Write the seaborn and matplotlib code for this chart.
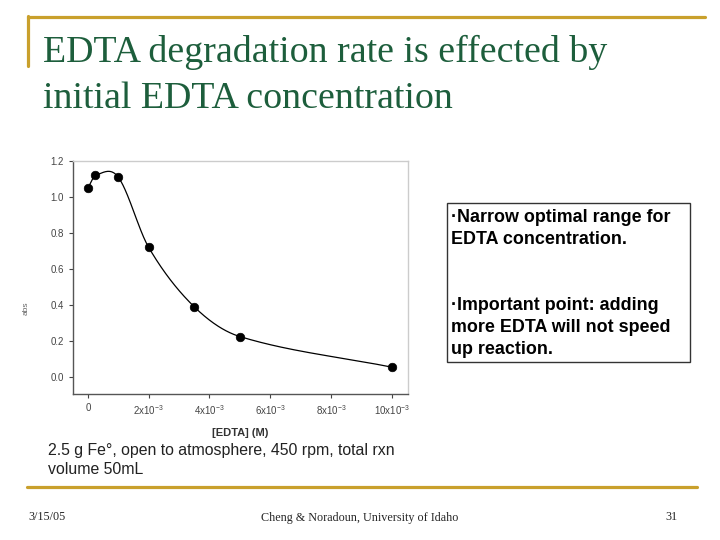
import numpy as np
import pandas as pd
import matplotlib
matplotlib.use("Agg")
from matplotlib import pyplot as plt
from matplotlib.lines import Line2D
from matplotlib.patches import Rectangle
import seaborn as sns

# data
edta_conc = [0.0, 0.25e-3, 1.0e-3, 2.0e-3, 3.5e-3, 5.0e-3, 10.0e-3]
k_abs = [1.05, 1.12, 1.11, 0.72, 0.39, 0.225, 0.055]
x_ticks = [0, 2e-3, 4e-3, 6e-3, 8e-3, 10e-3]
x_ticklabels = ["0", r"2x10$^{-3}$", r"4x10$^{-3}$", r"6x10$^{-3}$", r"8x10$^{-3}$", r"10x10$^{-3}$"]
y_ticks = [0.0, 0.2, 0.4, 0.6, 0.8, 1.0, 1.2]

GOLD = "#C9A02C"
GREEN = "#1D5E3C"


def smooth_curve(x, y, n=60):
    # cardinal (catmull-rom) spline through the points, like the original software
    x = np.asarray(x, float)
    y = np.asarray(y, float)
    m = len(x)
    d = np.empty(m)
    d[0] = (y[1] - y[0]) / (x[1] - x[0])
    d[-1] = (y[-1] - y[-2]) / (x[-1] - x[-2])
    d[1:-1] = (y[2:] - y[:-2]) / (x[2:] - x[:-2])
    xs_all, ys_all = [], []
    for i in range(m - 1):
        h = x[i + 1] - x[i]
        t = np.linspace(0, 1, n)
        h00 = 2 * t**3 - 3 * t**2 + 1
        h10 = t**3 - 2 * t**2 + t
        h01 = -2 * t**3 + 3 * t**2
        h11 = t**3 - t**2
        xs_all.append(x[i] + t * h)
        ys_all.append(h00 * y[i] + h10 * h * d[i] + h01 * y[i + 1] + h11 * h * d[i + 1])
    return np.concatenate(xs_all), np.concatenate(ys_all)


sns.set_style("white")
plt.rcParams["font.family"] = ["Liberation Sans", "DejaVu Sans"]
plt.rcParams["mathtext.fontset"] = "custom"
plt.rcParams["mathtext.rm"] = "Liberation Sans"
plt.rcParams["mathtext.it"] = "Liberation Sans:italic"

fig = plt.figure(figsize=(7.2, 5.4), dpi=100)

W, H = 720.0, 540.0
ax = fig.add_axes([73 / W, 1 - 394 / H, (408 - 73) / W, (394 - 161) / H])

df = pd.DataFrame({"edta": edta_conc, "k": k_abs})
xs, ys = smooth_curve(edta_conc, k_abs)
sns.lineplot(x=xs, y=ys, ax=ax, color="black", linewidth=0.9, sort=False)
sns.scatterplot(data=df, x="edta", y="k", ax=ax, color="black", s=38, edgecolor="black", zorder=3)

ax.set_xlim(-0.49e-3, 10.53e-3)
ax.set_ylim(-0.094, 1.2)
ax.set_xticks(x_ticks)
ax.set_xticklabels(x_ticklabels)
ax.set_yticks(y_ticks)
ax.set_yticklabels([f"{v:.1f}" for v in y_ticks])
ax.tick_params(axis="both", labelsize=7, colors="#444444", length=3, width=0.8,
               direction="out", bottom=True, left=True)
ax.set_xlabel("[EDTA] (M)", fontsize=8, fontweight="bold", color="#333333", labelpad=8)
ax.set_ylabel("abs", fontsize=6, color="#666666")
ax.yaxis.set_label_coords(-0.13, 0.37)
for side in ["left", "bottom"]:
    ax.spines[side].set_color("#555555")
    ax.spines[side].set_linewidth(1.0)
for side in ["top", "right"]:
    ax.spines[side].set_color("#cccccc")
    ax.spines[side].set_linewidth(1.0)

# slide decoration
fig.add_artist(Line2D([28 / W, 705 / W], [1 - 17 / H, 1 - 17 / H], color=GOLD, lw=2.3))
fig.add_artist(Line2D([28 / W, 28 / W], [1 - 16 / H, 1 - 66 / H], color=GOLD, lw=2.3))
fig.add_artist(Line2D([27 / W, 697 / W], [1 - 487 / H, 1 - 487 / H], color=GOLD, lw=2.3))

fig.text(43 / W, 1 - 52 / H, "EDTA degradation rate is effected by", fontsize=27.3,
         family="Liberation Serif", color=GREEN, va="center")
fig.text(43 / W, 1 - 99 / H, "initial EDTA concentration", fontsize=27.3,
         family="Liberation Serif", color=GREEN, va="center")

fig.add_artist(Rectangle((447 / W, 1 - 362 / H), (690 - 447) / W, (362 - 203) / H,
                         fill=False, edgecolor="#333333", lw=1.0, transform=fig.transFigure))
box_lines = [
    ("\u00b7Narrow optimal range for", 218),
    ("EDTA concentration.", 240),
    ("\u00b7Important point: adding", 305),
    ("more EDTA will not speed", 327),
    ("up reaction.", 349),
]
for txt, ypx in box_lines:
    fig.text(451 / W, 1 - ypx / H, txt, fontsize=12.9, fontweight="bold",
             family="Liberation Sans", color="black", va="center")

fig.text(48 / W, 1 - 451 / H, "2.5 g Fe\u00b0, open to atmosphere, 450 rpm, total rxn",
         fontsize=11.4, family="Liberation Sans", color="#222222", va="center")
fig.text(48 / W, 1 - 469 / H, "volume 50mL", fontsize=11.4, family="Liberation Sans",
         color="#222222", va="center")

fig.text(28 / W, 1 - 517 / H, "3/15/05", fontsize=8.7, family="Liberation Serif", va="center")
fig.text(360 / W, 1 - 518 / H, "Cheng & Noradoun, University of Idaho", fontsize=8.7,
         family="Liberation Serif", va="center", ha="center")
fig.text(678 / W, 1 - 517 / H, "31", fontsize=8.7, family="Liberation Serif", va="center", ha="right")

fig.savefig("out.png", dpi=100)
